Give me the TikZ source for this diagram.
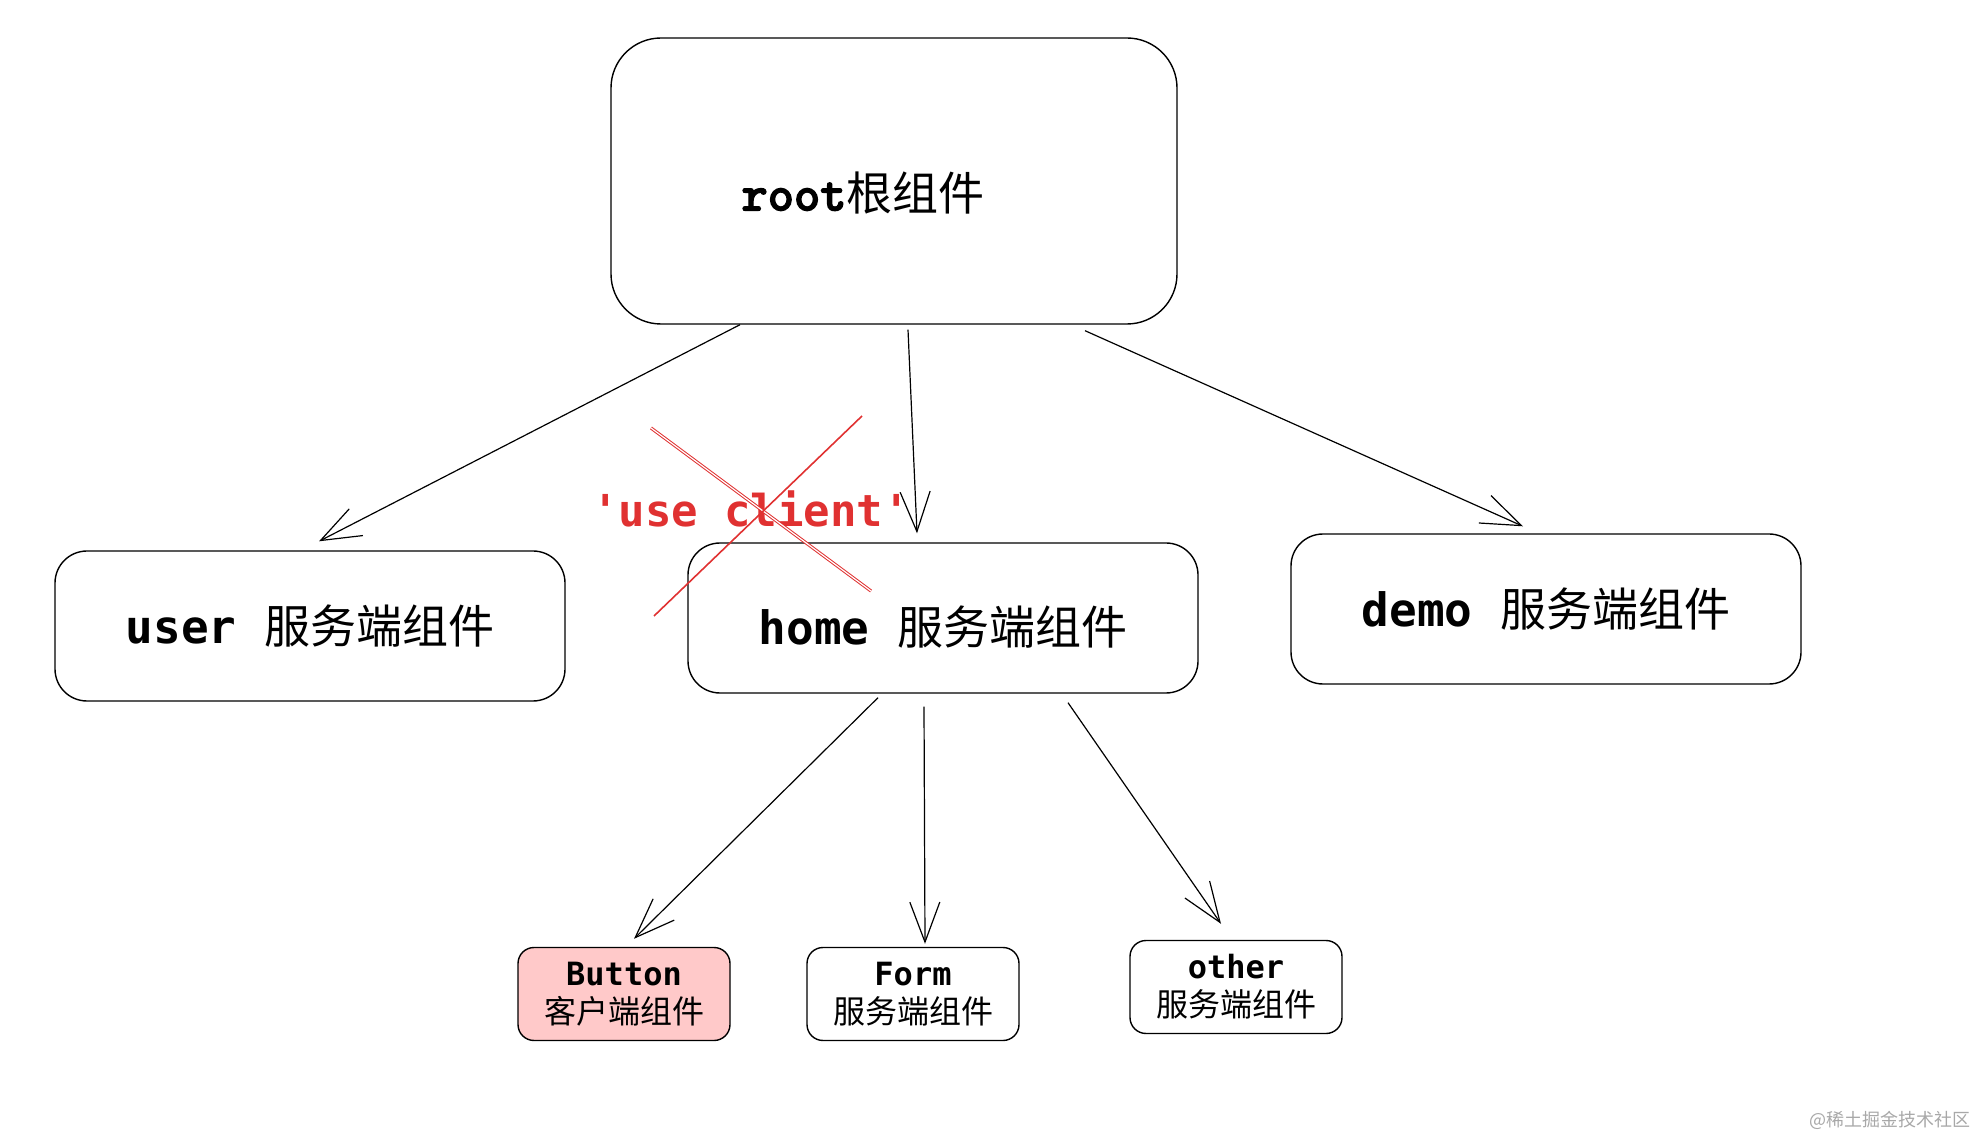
\documentclass[tikz,border=0pt]{standalone}
\usepackage{fontspec}
\setmonofont{DejaVu Sans Mono}
\newfontfamily\cjk{Noto Sans CJK SC}
\newfontfamily\rootmono{lmmonolt10-bold.otf}[FakeBold=2.5]
\usetikzlibrary{arrows.meta}

\definecolor{clientred}{HTML}{E03131}
\definecolor{clientpink}{HTML}{FFC9C9}
\definecolor{markgray}{HTML}{A8A8A8}

\begin{document}
\begin{tikzpicture}[x=0.5pt,y=-0.5pt,
    box/.style={draw,line width=0.7pt,inner sep=0pt},
    bigtext/.style={font=\fontsize{23}{27}\selectfont\ttfamily},
    smalltext/.style={font=\fontsize{16}{19}\selectfont\ttfamily,align=center},
    link/.style={-{Straight Barb[length=20pt,width=15pt]},line width=0.6pt}]

      \useasboundingbox (0,0) rectangle (1976,1138);

      % top level
      \node[box,rounded corners=25pt,minimum width=283pt,minimum height=143pt] (root) at (894,181) {};
      \node[font=\fontsize{23}{27}\selectfont] (rootlabel) at (863,193) {{\fontsize{25}{27}\selectfont\rootmono root}{\cjk 根组件}};

      % server components
      \begin{scope}[every node/.style={box,bigtext,rounded corners=16pt,minimum width=255pt,minimum height=75pt}]
        \node (user) at (310,626) {{\bfseries user} {\cjk 服务端组件}};
        \node[text height=28pt] (home) at (943,618) {{\bfseries home} {\cjk 服务端组件}};
        \node (demo) at (1546,609) {{\bfseries demo} {\cjk 服务端组件}};
      \end{scope}

      % children of home
      \begin{scope}[every node/.style={box,smalltext,rounded corners=8pt,minimum width=106pt,minimum height=46.5pt}]
        \node[fill=clientpink] (button) at (624,994) {\textbf{Button}\\{\cjk 客户端组件}};
        \node (form) at (913,994) {\textbf{Form}\\{\cjk 服务端组件}};
        \node (other) at (1236,987) {\textbf{other}\\{\cjk 服务端组件}};
      \end{scope}

      \begin{scope}[every path/.style={link}]
        \draw ([xshift=-77pt]root.south) -- ([xshift=4.5pt,yshift=4.5pt]user.north);
        \draw ([xshift=7pt,yshift=-2.5pt]root.south) -- ([xshift=-13pt,yshift=4.5pt]home.north);
        \draw ([xshift=95.5pt,yshift=-3pt]root.south) -- ([xshift=-11.5pt,yshift=3.5pt]demo.north);
        \draw ([xshift=-32.5pt,yshift=-2pt]home.south) -- ([xshift=5pt,yshift=4pt]button.north);
        \draw ([xshift=-9.5pt,yshift=-6.5pt]home.south) -- ([xshift=6pt,yshift=1.5pt]form.north);
        \draw ([xshift=62.5pt,yshift=-4.5pt]home.south) -- ([xshift=-7.5pt,yshift=8pt]other.north);
      \end{scope}

      % crossed out directive
      \node[text=clientred,font=\fontsize{22}{26}\selectfont\ttfamily\bfseries] (directive) at (751,509) {'use client'};
      \coordinate (crossa) at (651,428);
      \coordinate (crossb) at (871,591);
      \coordinate (crossc) at (862,416);
      \coordinate (crossd) at (654,616);
      \draw[clientred,line width=0.5pt,double=white,double distance=0.6pt] (crossa) -- (crossb);
      \draw[clientred,line width=0.8pt] (crossc) -- (crossd);

      \node[text=markgray,font=\fontsize{9}{11}\selectfont\cjk] (mark) at (1890,1120) {@稀土掘金技术社区};

    \end{tikzpicture}
\end{document}
